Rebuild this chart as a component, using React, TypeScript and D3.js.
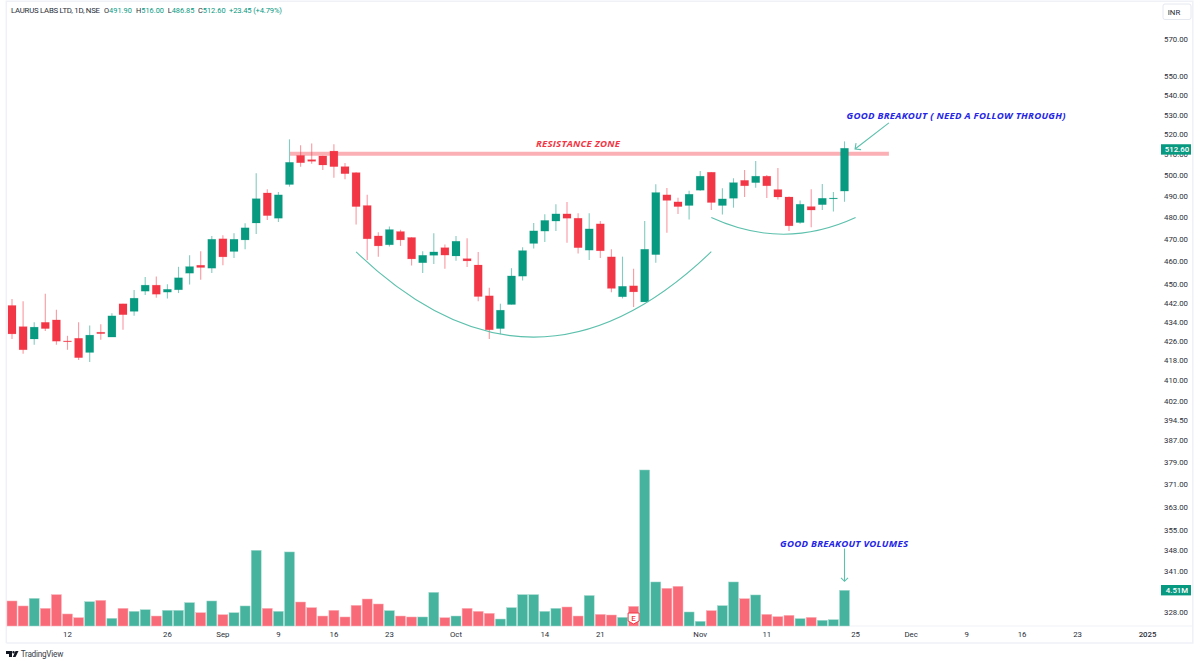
import React from "react";
import * as d3 from "d3";

const opens = [440.6,431.7,426.6,433.5,434.5,425.8,426.9,421.1,429.4,427.4,441.3,438.1,446.7,449.3,446.3,447.3,454.5,458.0,456.7,469.8,464.1,469.3,477.0,491.0,479.2,495.0,
  509.1,507.0,508.8,511.2,503.6,500.7,485.1,471.1,467.1,473.1,470.4,459.1,462.4,465.8,462.1,460.9,458.1,444.7,430.9,441.0,453.2,467.7,473.3,477.9,481.2,479.2,
  464.7,476.6,461.7,444.3,449.0,442.1,462.7,490.1,486.8,485.1,492.3,500.9,485.1,488.5,497.0,495.9,499.0,492.6,489.1,477.2,484.6,485.5,488.5,491.9];
const highs = [443.3,442.4,433.5,445.6,438.8,427.9,433.5,432.2,432.7,437.3,441.3,447.2,452.8,453.1,449.7,457.3,462.4,464.2,471.1,471.4,472.3,476.9,500.4,492.8,491.5,517.0,
  514.1,514.9,508.9,514.6,505.4,500.9,490.1,472.8,475.4,473.9,470.5,464.2,472.3,467.2,471.1,470.1,463.9,448.2,441.3,456.7,466.0,477.0,481.0,485.7,486.8,481.5,
  481.5,477.9,465.1,461.8,456.4,477.9,495.1,493.4,488.8,492.1,501.5,501.0,493.2,498.0,502.0,506.3,499.6,503.0,489.3,487.4,492.8,495.3,491.4,516.0];
const lows = [426.6,420.6,424.2,429.9,424.2,422.2,418.1,417.3,426.3,427.4,430.4,436.3,445.1,443.9,443.6,445.9,449.6,451.6,454.6,458.0,461.2,465.1,472.0,478.4,477.5,494.0,
  503.6,505.0,502.0,498.2,497.5,476.3,460.3,461.7,466.3,466.6,457.9,454.6,458.5,456.5,460.0,457.2,442.4,426.6,428.6,441.0,451.3,465.4,468.4,473.4,468.0,463.2,
  460.3,461.2,446.2,443.6,440.0,442.1,459.1,472.6,481.2,478.6,492.0,483.0,480.9,484.1,489.1,493.5,488.6,487.9,473.4,476.7,475.0,483.0,482.3,486.85];
const closes = [428.7,422.2,431.5,430.9,425.7,425.7,419.0,428.2,428.8,436.2,436.7,443.7,449.3,445.4,447.5,452.5,457.4,457.0,469.6,461.7,469.6,474.8,488.3,480.4,490.1,505.7,
  505.5,506.2,504.4,503.6,500.2,484.6,469.8,466.6,474.0,469.3,460.8,462.4,463.9,462.5,468.7,459.9,444.4,430.4,438.6,453.3,464.5,473.4,478.2,481.2,479.2,465.8,
  474.3,464.4,447.9,448.8,446.4,465.1,491.2,487.5,484.6,490.4,499.0,486.5,488.2,495.9,494.4,499.0,494.4,489.1,475.7,485.7,483.0,488.5,488.6,512.6];
const volumes = [3.16,2.53,3.49,2.23,3.96,1.52,1.05,3.07,3.24,0.97,2.23,1.85,2.06,1.26,1.98,1.98,2.95,1.68,3.16,1.43,1.68,2.53,9.56,2.23,1.85,9.35,
  3.03,2.32,1.26,1.98,1.14,2.61,3.41,2.78,1.94,1.26,1.14,1.14,4.25,1.05,1.26,2.23,1.85,1.60,0.88,2.32,3.96,3.96,1.85,2.23,2.40,1.26,
  3.85,1.47,1.39,1.09,2.48,19.7,5.56,4.76,5.01,1.77,0.59,1.94,2.57,5.56,3.45,3.92,1.47,1.18,1.35,0.93,1.09,0.72,0.80,4.51];
const greenVolume = [0,0,1,0,0,0,0,1,0,1,0,1,1,0,1,1,1,0,1,0,1,1,1,0,1,1,
  0,0,0,0,0,0,0,0,1,0,0,1,1,0,1,0,0,0,1,1,1,1,1,1,0,0,
  1,0,0,1,0,1,1,0,0,1,1,0,1,1,0,1,0,0,0,1,0,1,1,1];

const priceTicks = [570,550,540,530,520,510,500,490,480,470,460,450,442,434,426,418,410,402,394.5,387,379,371,363,355,348,341,328];
const timeLabels = ["12","26","Sep","9","16","23","Oct","14","21","Nov","11","25","Dec","9","16","23","2025"];
const timeIndex = [5,14,19,24,29,34,40,48,53,62,68,76,81,86,91,96,102.3];

const headerLabels = ["LAURUS LABS LTD, 1D, NSE","O","H","L","C"];
const headerValues = ["491.90","516.00","486.85","512.60"];
const headerChange = "+23.45 (+4.79%)";

const resistancePrice = 509.9;
const resistanceSpan = [25.05,79];
const bigCurve = { x: [31,47,63], p: [463.9,393.7,464] };
const smallCurve = { x: [63,69.5,76], p: [479.5,464.4,479.5] };
const breakoutArrow = { x: [79,75.95], p: [525.3,512.2] };
const volumeArrow = { x: 75, v: [9.8,5.64] };
const lastPrice = 512.6;
const lastVolume = 4.51;

const x = d3.scaleLinear().domain([0,75]).range([12,844.5]);
const y = d3.scaleLog().domain([328,570]).range([612,38]);
const yAxis = d3.scaleLog().domain([328,570]).range([611.7,39.3]);
const yv = d3.scaleLinear().domain([0,20]).range([626,467.6]);

const GREEN = "#089981";
const RED = "#f23645";
const TEAL_LINE = "#5cc0ac";
const BLUE = "#2424e6";
const FONT = "Roboto, 'Noto Sans', sans-serif";
const NOTE_FONT = "'Open Sans', sans-serif";
const INK = "#2a2e39";

const curvePath = (c: { x: number[]; p: number[] }) => {
  const path = d3.path();
  path.moveTo(x(c.x[0]), y(c.p[0]));
  path.quadraticCurveTo(x(c.x[1]), y(c.p[1]), x(c.x[2]), y(c.p[2]));
  return path.toString();
};

const headerX = [104,136,167.7,198];

export default function App() {
  const ax2 = x(breakoutArrow.x[1]);
  const ay2 = y(breakoutArrow.p[1]);
  const vax = x(volumeArrow.x);
  const vay1 = yv(volumeArrow.v[0]);
  const vay2 = yv(volumeArrow.v[1]);
  const eX = x(56);
  return (
    <svg width={1200} height={664} viewBox="0 0 1200 664" style={{ position: "absolute", left: 0, top: 0, background: "#fff" }} fontFamily={FONT}>
      <rect x={0} y={0} width={1200} height={664} fill="#fff" />
      <path d="M6.3 643V1.2H1192.8V643H6.3" fill="none" stroke="#f0f1f7" strokeWidth={1.5} />
      <line x1={6} x2={1193} y1={626} y2={626} stroke="#f0f1f7" strokeWidth={1} />

      {/* volume */}
      {volumes.map((v, i) => (
        <rect key={i} x={x(i) - 5} width={10} y={yv(v)} height={yv(0) - yv(v)}
          fill={greenVolume[i] ? "#45b39d" : "#f96a78"} stroke={greenVolume[i] ? "#a8dcd1" : "#fbb4bb"} strokeWidth={0.5} />
      ))}

      {/* resistance */}
      <line x1={x(resistanceSpan[0])} x2={x(resistanceSpan[1])} y1={y(resistancePrice)} y2={y(resistancePrice)} stroke="#fbb0b6" strokeWidth={4} />

      {/* candles */}
      {closes.map((c, i) => {
        const o = opens[i];
        const up = c >= o;
        const col = up ? GREEN : RED;
        const top = y(Math.max(o, c));
        const bot = y(Math.min(o, c));
        return (
          <g key={i}>
            <line x1={x(i)} x2={x(i)} y1={y(highs[i])} y2={y(lows[i])} stroke={col} strokeOpacity={0.5} strokeWidth={1.1} />
            <rect x={x(i) - 4} width={8} y={top} height={Math.max(bot - top, 0.8)} fill={col} stroke={col} strokeOpacity={0.25} strokeWidth={0.6} />
          </g>
        );
      })}

      {/* curves */}
      <path d={curvePath(bigCurve)} fill="none" stroke={TEAL_LINE} strokeWidth={1.1} />
      <path d={curvePath(smallCurve)} fill="none" stroke={TEAL_LINE} strokeWidth={1.1} />

      {/* arrows */}
      <path d={`M${x(breakoutArrow.x[0])} ${y(breakoutArrow.p[0])}L${ax2} ${ay2}M${ax2 + 1} ${ay2 - 6}L${ax2} ${ay2}L${ax2 + 6} ${ay2 + 0.6}`} fill="none" stroke={TEAL_LINE} strokeWidth={1.1} />
      <path d={`M${vax} ${vay1}L${vax} ${vay2}M${vax - 3.5} ${vay2 - 3.5}L${vax} ${vay2}L${vax + 3.5} ${vay2 - 3.5}`} fill="none" stroke={TEAL_LINE} strokeWidth={1.1} />

      {/* annotations */}
      <text x={536} y={147.4} fill={RED} fontSize={9.6} fontStyle="italic" fontWeight={700} fontFamily={NOTE_FONT} textLength={84}>RESISTANCE ZONE</text>
      <text x={846.5} y={119.3} fill={BLUE} fontSize={9.6} fontStyle="italic" fontWeight={700} fontFamily={NOTE_FONT} textLength={219}>GOOD BREAKOUT ( NEED A FOLLOW THROUGH)</text>
      <text x={780} y={546.7} fill={BLUE} fontSize={9.6} fontStyle="italic" fontWeight={700} fontFamily={NOTE_FONT} textLength={128}>GOOD BREAKOUT VOLUMES</text>

      {/* earnings badge */}
      <path d={`M${eX - 5.5} 613H${eX + 5.5}V621L${eX} 624L${eX - 5.5} 621Z`} fill="#fff" stroke={RED} strokeWidth={1} />
      <text x={eX} y={621} textAnchor="middle" fontSize={8} fill={RED} fontWeight={500}>E</text>

      {/* header */}
      <text x={11} y={13} fontSize={7.8} fill={INK} textLength={89}>{headerLabels[0]}</text>
      {headerValues.map((v, i) => (
        <text key={v} x={headerX[i]} y={13} fontSize={7.4} fill={GREEN}>
          <tspan fill={INK}>{headerLabels[i + 1]}</tspan>{v}
        </text>
      ))}
      <text x={229} y={13} fontSize={7.6} fill={GREEN} textLength={53}>{headerChange}</text>

      {/* price axis */}
      <rect x={1163} y={4} width={28} height={15.5} rx={2} fill="#fff" stroke="#e6e8f0" strokeWidth={1} />
      <text x={1174} y={14.8} textAnchor="middle" fontSize={7.8} fill={INK}>INR</text>
      {priceTicks.map(t => (
        <text key={t} x={1188} y={yAxis(t) + 2.9} textAnchor="end" fontSize={7.8} fill={INK}>{t.toFixed(2)}</text>
      ))}
      <rect x={1161} y={yAxis(lastPrice) - 5} width={30} height={10.4} fill={GREEN} />
      <text x={1177} y={yAxis(lastPrice) + 2.9} textAnchor="middle" fontSize={7.8} fontWeight={500} fill="#fff">{lastPrice.toFixed(2)}</text>
      <rect x={1161} y={585} width={30} height={10.4} fill={GREEN} />
      <text x={1177} y={593.2} textAnchor="middle" fontSize={7.8} fontWeight={500} fill="#fff">{lastVolume.toFixed(2)}M</text>

      {/* time axis */}
      {timeLabels.map((t, i) => (
        <text key={i} x={x(timeIndex[i])} y={637.2} textAnchor="middle" fontSize={7.8} fill={INK} fontWeight={t === "2025" ? 500 : 400}>{t}</text>
      ))}

      {/* logo */}
      <path d="M6 651H12V657H9V654H6ZM13.5 651a1.2 1.2 0 1 1 0 2.4a1.2 1.2 0 1 1 0-2.4ZM15.5 651H18.5L15.5 657H12.8Z" fill="#131722" />
      <text x={20.7} y={657} fontSize={8.2} fill="#3a3e49" textLength={42.6}>TradingView</text>
    </svg>
  );
}
